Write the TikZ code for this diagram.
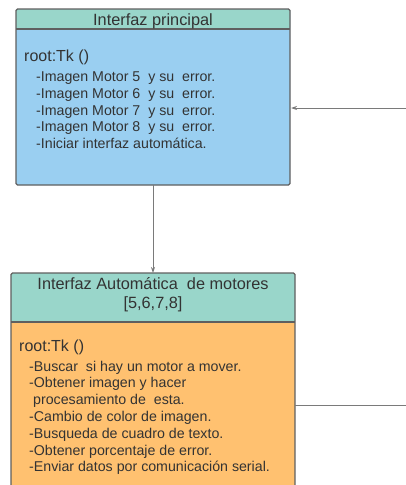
\documentclass[tikz,border=0pt]{standalone}
\usepackage{fontspec}
\setmainfont{Liberation Sans}
\usetikzlibrary{arrows.meta}
\definecolor{hdr}{HTML}{99D6CA}
\definecolor{bluebody}{HTML}{9ACFF1}
\definecolor{orangebody}{HTML}{FFC170}
\definecolor{edge}{HTML}{5F5F5F}
\definecolor{txt}{HTML}{333333}
\definecolor{wire}{HTML}{7A7A7A}
\tikzset{
  x=1pt,y=-1pt,
  panel/.style={draw=edge,line width=1.3pt,rounded corners=1.5pt},
  ttl/.style={text=txt,font=\fontsize{16.3}{19}\selectfont,anchor=base,inner sep=0pt},
  bodytxt/.style={text=txt,font=\fontsize{14.2}{16}\selectfont,anchor=base west,inner sep=0pt},
  roottxt/.style={text=txt,font=\fontsize{16}{18}\selectfont,anchor=base west,inner sep=0pt},
  wireline/.style={draw=wire,line width=0.9pt},
  tip/.style={-{Stealth[length=6pt,width=4pt]}}
}
\begin{document}
\begin{tikzpicture}
\useasboundingbox (0,0) rectangle (406,485);
% top panel
\fill[bluebody,rounded corners=1.5pt] (16,9) rectangle (290,185);
\fill[hdr,rounded corners=1.5pt] (16,9) rectangle (290,29);
\fill[hdr] (16,20) rectangle (290,29);
\draw[edge,line width=1.3pt] (16,29) -- (290,29);
\draw[panel] (16,9) rectangle (290,185);
\node[ttl] (t1) at (153,25) {Interfaz principal};
\node[roottxt] (r1) at (24,61) {root:Tk ()};
\foreach \txt [count=\i from 0] in {
  {-Imagen Motor 5\ \ y su\ \ error.},
  {-Imagen Motor 6\ \ y su\ \ error.},
  {-Imagen Motor 7\ \ y su\ \ error.},
  {-Imagen Motor 8\ \ y su\ \ error.},
  {-Iniciar interfaz automática.}}
  \node[bodytxt] (ta\i) at (36,81.7+16.7*\i) {\txt};
\coordinate (topbot) at (153,185);
\coordinate (topright) at (291,108);
\coordinate (inR) at (406,108);
% bottom panel
\fill[orangebody] (11,273) rectangle (295,486);
\fill[hdr,rounded corners=1.5pt] (11,273) rectangle (295,322);
\fill[hdr] (11,300) rectangle (295,322);
\draw[edge,line width=1.3pt] (11,322) -- (295,322);
\draw[panel] (11,490) -- (11,273) -- (295,273) -- (295,490);
\node[ttl] (t2a) at (153,289.3) {Interfaz Automática\ \ de motores};
\node[ttl] (t2b) at (153,308.5) {[5,6,7,8]};
\node[roottxt] (r2) at (19,351) {root:Tk ()};
\foreach \txt [count=\i from 0] in {
  {-Buscar\ \ si hay un motor a mover.},
  {-Obtener imagen y hacer},
  {\ procesamiento de\ \ esta.},
  {-Cambio de color de imagen.},
  {-Busqueda de cuadro de texto.},
  {-Obtener porcentaje de error.},
  {-Enviar datos por comunicación serial.}}
  \node[bodytxt] (tb\i) at (29,371+16.8*\i) {\txt};
\coordinate (bottop) at (153,273);
\coordinate (botright) at (295,405);
\coordinate (outR) at (406,405);
% connectors
\draw[wireline,tip] (topbot) -- (bottop);
\draw[wireline,tip] (inR) -- (topright);
\draw[wireline] (botright) -- (outR);
\end{tikzpicture}
\end{document}
